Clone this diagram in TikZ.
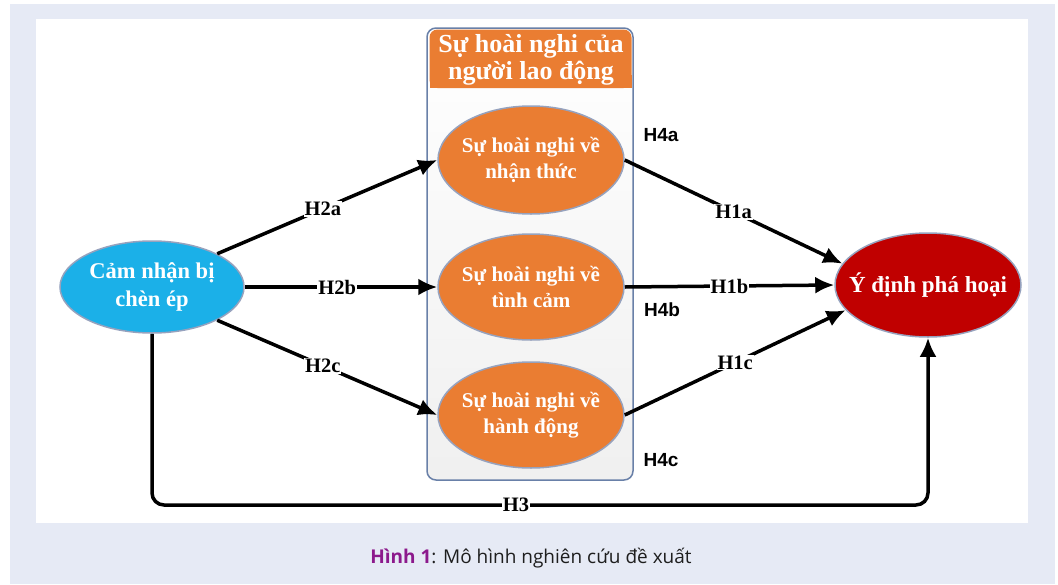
\documentclass[tikz,border=0pt]{standalone}
\usepackage{fontspec}
\setmainfont{Liberation Serif}
\newfontfamily\lsans{Liberation Sans}
\newfontfamily\capfont{Open Sans}
\usetikzlibrary{arrows.meta,shapes.geometric}
\definecolor{lav}{RGB}{230,234,245}
\definecolor{cyanc}{RGB}{27,176,232}
\definecolor{orangec}{RGB}{234,125,50}
\definecolor{redc}{RGB}{192,0,0}
\definecolor{ellb}{RGB}{150,162,190}
\definecolor{boxb}{RGB}{105,128,168}
\definecolor{capp}{RGB}{140,25,140}
\definecolor{capt}{RGB}{30,30,30}
\tikzset{
  ell/.style={ellipse, draw=ellb, line width=1.5pt, inner sep=0pt},
  etxt/.style={text=white, align=center, inner sep=0pt, font=\bfseries\fontsize{21}{26}\selectfont},
  lbl/.style={fill=white, inner sep=1pt, font=\bfseries\fontsize{20.5}{20}\selectfont},
  hlbl/.style={font=\lsans\bfseries\fontsize{19}{19}\selectfont},
  arr/.style={line width=3.5pt, -{Latex[length=19pt,width=17pt]}},
}
\begin{document}
\begin{tikzpicture}[x=1pt,y=-1pt]
\useasboundingbox (0,0) rectangle (1058,584);
\fill[white] (0,0) rectangle (1058,584);
\fill[lav] (10,4) rectangle (1055,584);
\fill[white] (36,19) rectangle (1028,523);

% group box
\node[draw=boxb, line width=1.5pt, rounded corners=9pt, top color=white, bottom color=gray!12,
  minimum width=206pt, minimum height=452pt, inner sep=0pt] (box) at (530,254) {};
\fill[orangec, rounded corners=8pt] (429.5,29.5) rectangle (631.5,88);
\fill[orangec] (429.5,75) rectangle (631.5,88);
\node[text=white, align=center, inner sep=0pt, font=\bfseries\fontsize{26}{27}\selectfont] (G) at (531,60) {Sự hoài nghi của\\người lao động};

% ellipses
\node[ell, fill=cyanc, minimum width=184pt, minimum height=92pt] (L) at (152,287) {};
\node[etxt, font=\bfseries\fontsize{22.5}{28}\selectfont] (Lt) at (L.center) {Cảm nhận bị\\chèn ép};
\node[ell, fill=redc, minimum width=186pt, minimum height=104pt] (R) at (928,285) {};
\node[etxt, font=\bfseries\fontsize{23}{26}\selectfont] (Rt) at (R.center) {Ý định phá hoại};
\node[ell, fill=orangec, minimum width=186pt, minimum height=108pt] (M1) at (531,160) {};
\node[etxt] (M1t) at (M1.center) {Sự hoài nghi về\\nhận thức};
\node[ell, fill=orangec, minimum width=186pt, minimum height=106pt] (M2) at (531,287) {};
\node[etxt] (M2t) at (M2.center) {Sự hoài nghi về\\tình cảm};
\node[ell, fill=orangec, minimum width=186pt, minimum height=106pt] (M3) at (531,415) {};
\node[etxt] (M3t) at (M3.center) {Sự hoài nghi về\\hành động};

% arrows
\draw[arr] (L.27) -- (M1.west) node[lbl, pos=0.48] {H2a};
\draw[arr] (L.east) -- (M2.west) node[lbl, pos=0.48] {H2b};
\draw[arr] (L.-27) -- (M3.west) node[lbl, pos=0.48] {H2c};
\draw[arr] (M1.east) -- (R.166) node[lbl, pos=0.5] {H1a};
\draw[arr] (M2.east) -- (R.west) node[lbl, pos=0.5] {H1b};
\draw[arr] (M3.east) -- (R.-163) node[lbl, pos=0.5] {H1c};
\coordinate (h3) at (516,505);
\draw[arr, rounded corners=12pt] (L.south) |- (h3) -| (R.south);
\node[lbl] (H3) at (h3) {H3};

% H4 labels
\node[hlbl] (H4a) at (661,135) {H4a};
\node[hlbl] (H4b) at (662,310) {H4b};
\node[hlbl] (H4c) at (661,460) {H4c};

% caption
\node[font=\capfont\fontsize{19}{19}\selectfont, text=capt] (cap) at (531,558) {{\color{capp}\bfseries Hình 1}: Mô hình nghiên cứu đề xuất};
\end{tikzpicture}
\end{document}
